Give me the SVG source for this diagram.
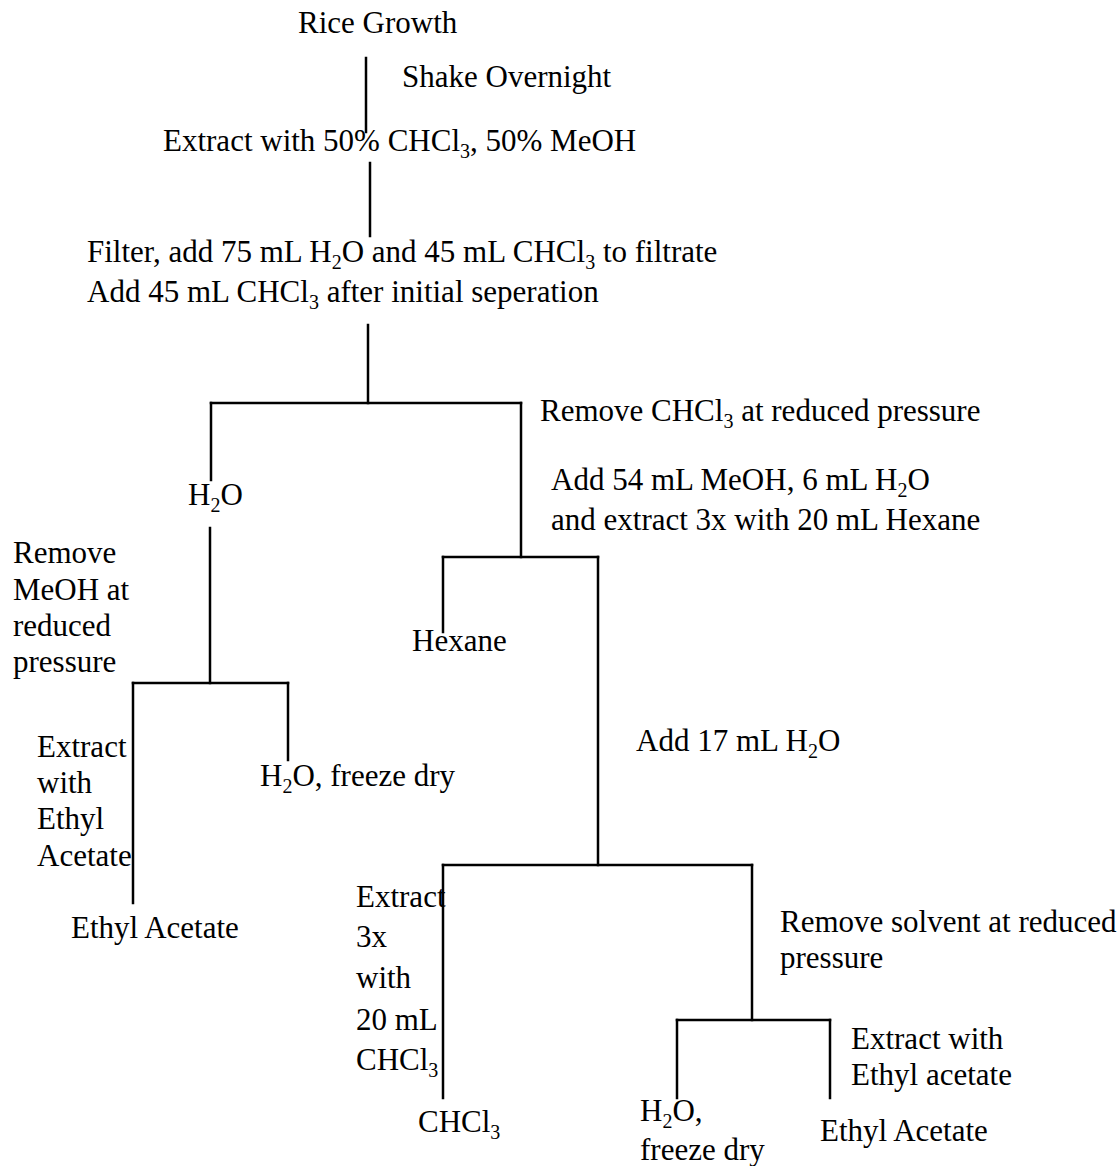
<svg xmlns="http://www.w3.org/2000/svg" width="1119" height="1166" viewBox="0 0 1119 1166">
<style>
text{font-family:"Liberation Serif","Times New Roman",serif;font-size:31px;fill:#000}
.s{font-size:20px}
.c line{stroke:#000;stroke-width:2.5;stroke-linecap:square}
</style>
<rect width="1119" height="1166" fill="#fff"/>
<g class="c" id="connectors">
<line x1="366" y1="58" x2="366" y2="132"/>
<line x1="370" y1="163" x2="370" y2="236"/>
<line x1="368" y1="325" x2="368" y2="403"/>
<line x1="211" y1="403" x2="521" y2="403"/>
<line x1="211" y1="403" x2="211" y2="480"/>
<line x1="521" y1="403" x2="521" y2="557"/>
<line x1="210" y1="528" x2="210" y2="683"/>
<line x1="133" y1="683" x2="288" y2="683"/>
<line x1="133" y1="683" x2="133" y2="903"/>
<line x1="288" y1="683" x2="288" y2="760"/>
<line x1="443" y1="557" x2="598" y2="557"/>
<line x1="443" y1="557" x2="443" y2="632"/>
<line x1="598" y1="557" x2="598" y2="865"/>
<line x1="443" y1="865" x2="752" y2="865"/>
<line x1="443" y1="865" x2="443" y2="1098"/>
<line x1="752" y1="865" x2="752" y2="1020"/>
<line x1="677" y1="1020" x2="830" y2="1020"/>
<line x1="677" y1="1020" x2="677" y2="1098"/>
<line x1="830" y1="1020" x2="830" y2="1098"/>
</g>
<g id="rice"><text x="298" y="33">Rice Growth</text></g>
<g id="shake"><text x="402" y="87">Shake Overnight</text></g>
<g id="extract1"><text x="163" y="151">Extract with 50% CHCl<tspan class="s" dy="7">3</tspan><tspan dy="-7">, 50% MeOH</tspan></text></g>
<g id="filter">
<text x="87" y="262">Filter, add 75 mL H<tspan class="s" dy="7">2</tspan><tspan dy="-7">O and 45 mL CHCl</tspan><tspan class="s" dy="7">3</tspan><tspan dy="-7"> to filtrate</tspan></text>
<text x="87" y="302">Add 45 mL CHCl<tspan class="s" dy="7">3</tspan><tspan dy="-7"> after initial seperation</tspan></text>
</g>
<g id="removeCHCl3"><text x="540" y="421">Remove CHCl<tspan class="s" dy="7">3</tspan><tspan dy="-7"> at reduced pressure</tspan></text></g>
<g id="addMeOH">
<text x="551" y="490">Add 54 mL MeOH, 6 mL H<tspan class="s" dy="7">2</tspan><tspan dy="-7">O</tspan></text>
<text x="551" y="530">and extract 3x with 20 mL Hexane</text>
</g>
<g id="h2o1"><text x="188" y="505">H<tspan class="s" dy="7">2</tspan><tspan dy="-7">O</tspan></text></g>
<g id="removeMeOH">
<text x="13" y="563">Remove</text>
<text x="13" y="600">MeOH at</text>
<text x="13" y="636">reduced</text>
<text x="13" y="672">pressure</text>
</g>
<g id="hexane"><text x="412" y="651">Hexane</text></g>
<g id="extractEA1">
<text x="37" y="757">Extract</text>
<text x="37" y="793">with</text>
<text x="37" y="829">Ethyl</text>
<text x="37" y="866">Acetate</text>
</g>
<g id="h2oFreeze1"><text x="260" y="786">H<tspan class="s" dy="7">2</tspan><tspan dy="-7">O, freeze dry</tspan></text></g>
<g id="add17"><text x="636" y="751">Add 17 mL H<tspan class="s" dy="7">2</tspan><tspan dy="-7">O</tspan></text></g>
<g id="ethylAcetate1"><text x="71" y="938">Ethyl Acetate</text></g>
<g id="extract3x">
<text x="356" y="907">Extract</text>
<text x="356" y="947">3x</text>
<text x="356" y="988">with</text>
<text x="356" y="1030">20 mL</text>
<text x="356" y="1070">CHCl<tspan class="s" dy="7">3</tspan></text>
</g>
<g id="removeSolvent">
<text x="780" y="932">Remove solvent at reduced</text>
<text x="780" y="968">pressure</text>
</g>
<g id="extractEA2">
<text x="851" y="1049">Extract with</text>
<text x="851" y="1085">Ethyl acetate</text>
</g>
<g id="chcl3"><text x="418" y="1132">CHCl<tspan class="s" dy="7">3</tspan></text></g>
<g id="h2oFreeze2">
<text x="640" y="1121">H<tspan class="s" dy="7">2</tspan><tspan dy="-7">O,</tspan></text>
<text x="640" y="1160">freeze dry</text>
</g>
<g id="ethylAcetate2"><text x="820" y="1141">Ethyl Acetate</text></g>
</svg>
